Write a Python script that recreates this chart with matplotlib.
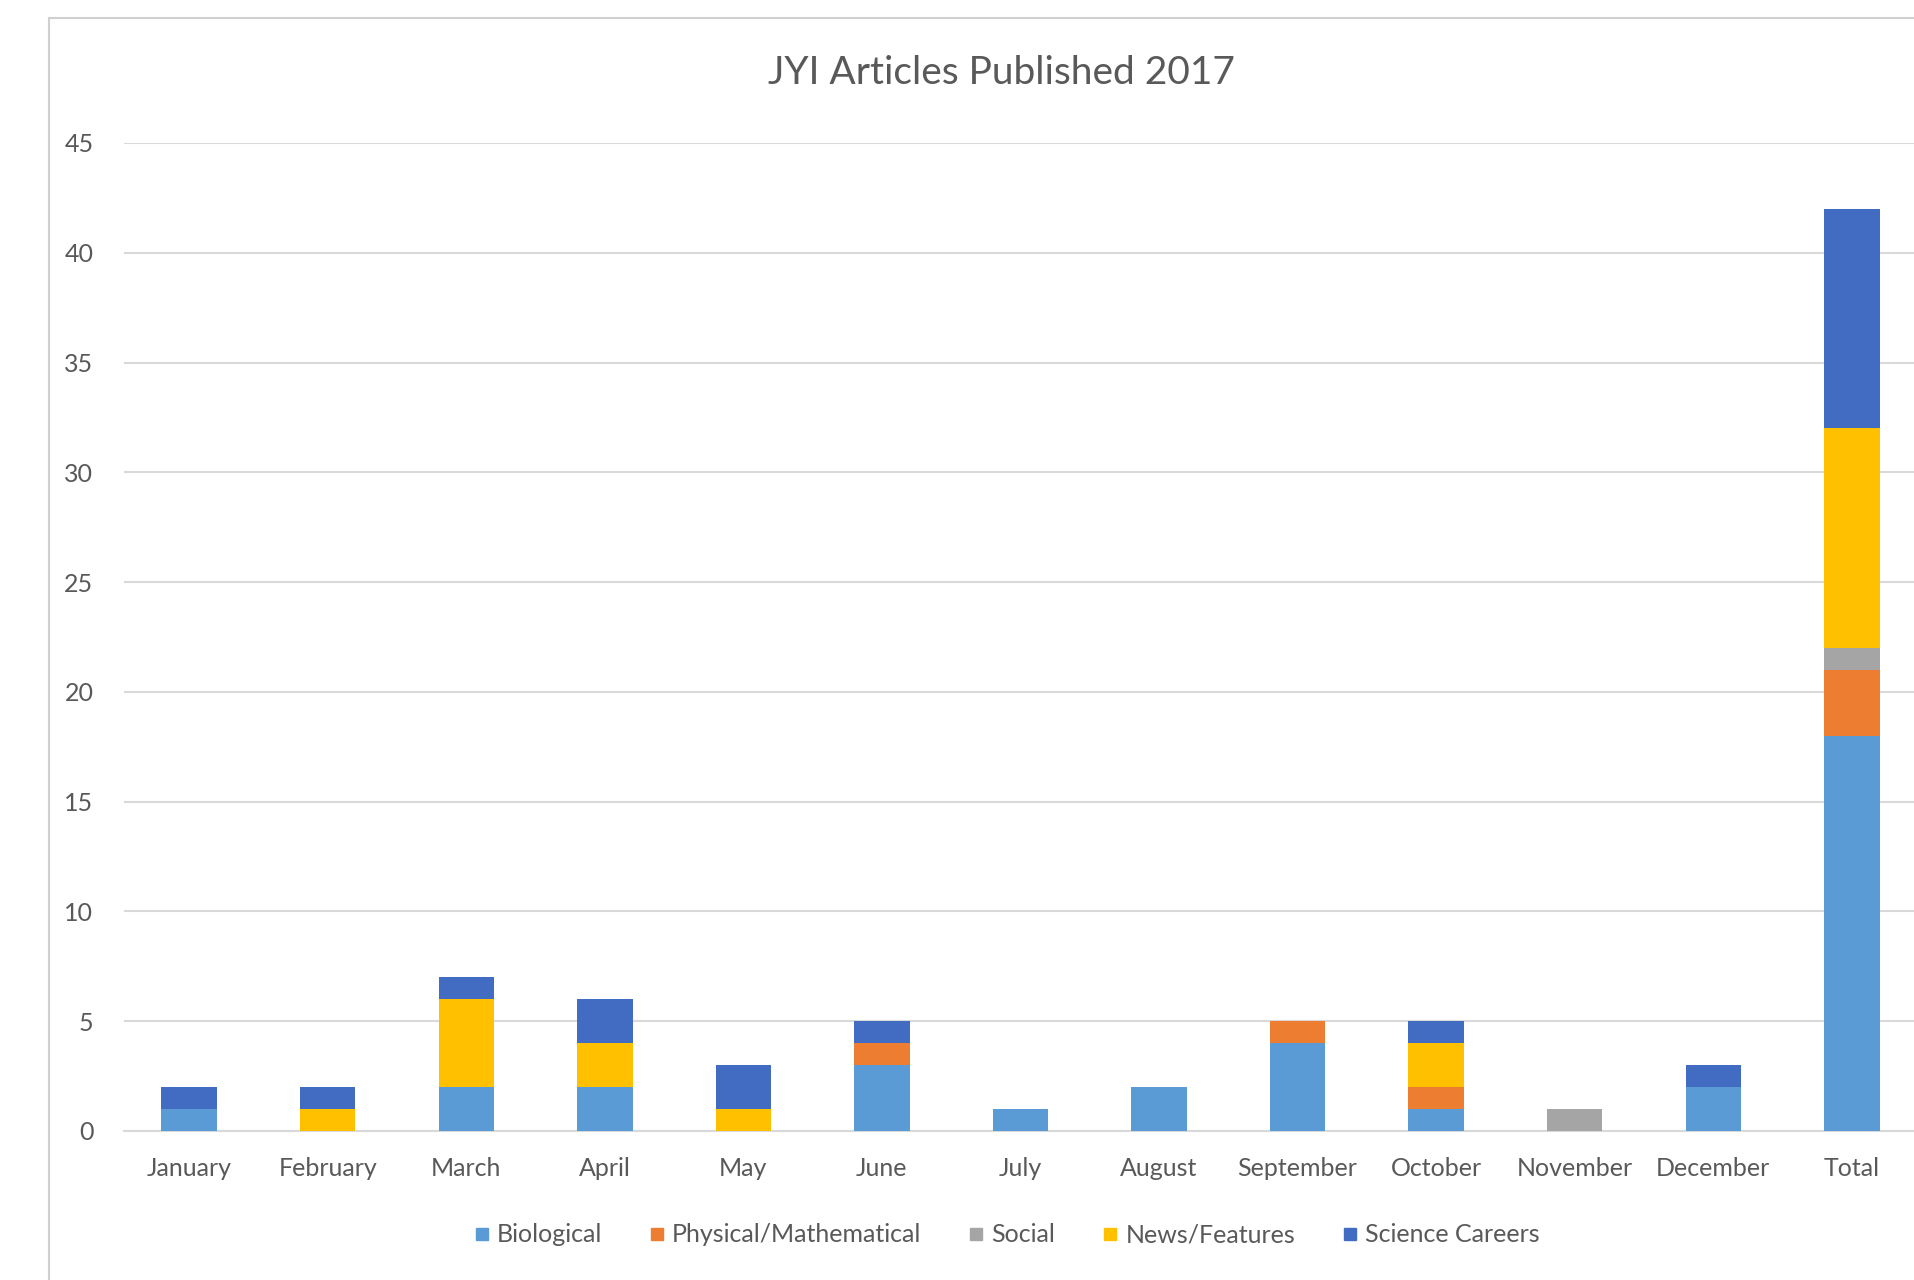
import numpy as np
import matplotlib.pyplot as plt
from matplotlib.lines import Line2D
from matplotlib.patches import Rectangle

categories = ['January', 'February', 'March', 'April', 'May', 'June', 'July',
              'August', 'September', 'October', 'November', 'December', 'Total']

biological = [1, 0, 2, 2, 0, 3, 1, 2, 4, 1, 0, 2, 18]
physical_math = [0, 0, 0, 0, 0, 1, 0, 0, 1, 1, 0, 0, 3]
social = [0, 0, 0, 0, 0, 0, 0, 0, 0, 0, 1, 0, 1]
news_features = [0, 1, 4, 2, 1, 0, 0, 0, 0, 2, 0, 0, 10]
science_careers = [1, 1, 1, 2, 2, 1, 0, 0, 0, 1, 0, 1, 10]

series_names = ['Biological', 'Physical/Mathematical', 'Social', 'News/Features', 'Science Careers']
series_colors = ['#5B9BD5', '#ED7D31', '#A5A5A5', '#FFC000', '#416CC2']

plt.rcParams['font.family'] = ['Lato', 'DejaVu Sans']
text_color = '#595959'

fig = plt.figure(figsize=(19.15, 12.8), dpi=100)
W, H = 1915, 1280

# chart frame (cut off at right/bottom in the reference)
fig.patches.append(Rectangle((49 / W, -0.05), 1.0, (1280 - 18) / H + 0.05,
                             transform=fig.transFigure, fill=False,
                             edgecolor='#d0d0d0', linewidth=1.5))

ax = fig.add_axes([124 / W, (H - 1131) / H, (W - 124) / W + 0.001, (1131 - 143) / H])

x = np.arange(len(categories))
bottom = np.zeros(len(categories))
for name, vals, col in zip(series_names,
                           [biological, physical_math, social, news_features, science_careers],
                           series_colors):
    vals = np.array(vals, dtype=float)
    ax.bar(x, vals, width=0.4, bottom=bottom, color=col, zorder=3, label=name)
    bottom += vals

ax.set_xlim(-0.47, 12.47)
ax.set_ylim(0, 45)
ax.set_yticks(np.arange(0, 46, 5))
ax.set_xticks(x)
ax.set_xticklabels(categories)
ax.grid(axis='y', color='#d9d9d9', linewidth=1.5, zorder=0)
for s in ['top', 'right', 'left']:
    ax.spines[s].set_visible(False)
ax.spines['bottom'].set_color('#d9d9d9')
ax.spines['bottom'].set_linewidth(1.5)
ax.tick_params(axis='both', length=0, colors=text_color, labelsize=18)
ax.tick_params(axis='x', pad=19)
ax.tick_params(axis='y', pad=22)

fig.text(1001 / W, 1 - 73 / H, 'JYI Articles Published 2017', ha='center', va='center',
         fontsize=28, color=text_color)

handles = [Line2D([], [], marker='s', linestyle='', markersize=9, color=c) for c in series_colors]
fig.legend(handles, series_names, loc='center', bbox_to_anchor=(1007 / W, 1 - 1235 / H),
           ncol=5, frameon=False, fontsize=18, labelcolor=text_color,
           handlelength=0.6, handletextpad=0.3, columnspacing=1.9)

fig.savefig('out.png', dpi=100, facecolor='white')
